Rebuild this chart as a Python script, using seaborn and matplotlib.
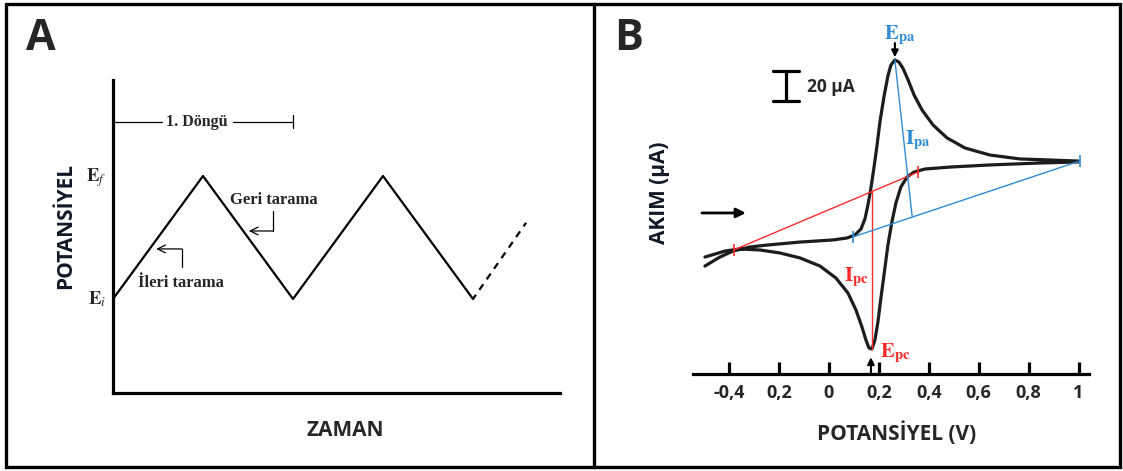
import numpy as np
import pandas as pd
import seaborn as sns
import matplotlib.pyplot as plt

# ---------------- data ----------------
# Panel A: triangular potential waveform (time units, potential normalised Ei=0, Ef=1)
wave_t = [0, 1, 2, 3, 4]
wave_E = [0, 1, 0, 1, 0]
dash_t = [4, 4.59]
dash_E = [0, 0.62]

# Panel B: cyclic voltammogram (V, µA)
fwd_V = [-0.497, -0.437, -0.385, -0.317, -0.248, -0.116, 0.016, 0.072, 0.104, 0.128,
         0.144, 0.156, 0.168, 0.180, 0.192, 0.204, 0.220, 0.236, 0.248, 0.264,
         0.280, 0.296, 0.317, 0.341, 0.373, 0.417, 0.473, 0.545, 0.645, 0.765,
         0.885, 0.998]
fwd_I = [-10.7, -4.7, -0.7, 2.0, 3.3, 5.3, 6.7, 8.0, 10.0, 14.0,
         20.7, 30.0, 41.3, 54.7, 69.3, 85.3, 102.0, 116.0, 123.3, 126.7,
         125.3, 121.3, 113.3, 103.3, 93.3, 83.3, 74.7, 68.0, 63.3, 60.7,
         60.0, 59.3]
rev_V = [0.998, 0.845, 0.645, 0.485, 0.385, 0.341, 0.313, 0.288, 0.268, 0.252,
         0.236, 0.224, 0.208, 0.196, 0.184, 0.172, 0.160, 0.148, 0.132, 0.108,
         0.076, 0.028, -0.036, -0.116, -0.196, -0.276, -0.357, -0.417, -0.497]
rev_I = [58.7, 58.0, 56.7, 55.3, 54.0, 52.0, 48.7, 42.0, 31.3, 18.7,
         3.3, -12.0, -32.0, -48.0, -60.0, -66.0, -65.3, -60.0, -51.3, -40.0,
         -28.7, -18.7, -10.7, -5.3, -2.0, 0.0, 0.7, -0.7, -4.7]

# baselines / peak construction lines
red_base_V = [-0.382, 0.357]
red_base_I = [0.0, 52.0]
ipc_V = [0.172, 0.172]
ipc_I = [39.0, -66.0]
blue_base_V = [0.096, 1.004]
blue_base_I = [8.7, 59.3]
ipa_V = [0.264, 0.333]
ipa_I = [126.7, 22.5]

tick_vals = [-0.4, -0.2, 0, 0.2, 0.4, 0.6, 0.8, 1.0]
tick_labels = ['-0,4', '0,2', '0', '0,2', '0,4', '0,6', '0,8', '1']

BLUE = '#2f8bd6'
RED = '#ff2b2b'

# ---------------- figure ----------------
sns.set_theme(style='white')
plt.rcParams['font.family'] = ['Open Sans', 'DejaVu Sans']
plt.rcParams['mathtext.fontset'] = 'stix'

W, H = 1123, 471
fig = plt.figure(figsize=(W / 100, H / 100), dpi=100)


def rect(l, t, r, b):
    return [l / W, 1 - b / H, (r - l) / W, (b - t) / H]


bg = fig.add_axes([0, 0, 1, 1])
bg.set_xlim(0, W)
bg.set_ylim(H, 0)
bg.axis('off')
bg.plot([6, 1120, 1120, 6, 6], [3.5, 3.5, 467, 467, 3.5], color='black', lw=2.4,
        solid_joinstyle='miter')
bg.plot([594, 594], [3.5, 467], color='black', lw=2.4)

bg.text(41, 38, 'A', fontsize=31, fontweight='bold', ha='center', va='center')
bg.text(629, 38, 'B', fontsize=31, fontweight='bold', ha='center', va='center')
bg.text(66, 226, 'POTANSİYEL', rotation=90, fontsize=15, fontweight='bold',
        ha='center', va='center', color='#111827')
bg.text(345, 430, 'ZAMAN', fontsize=15, fontweight='bold', ha='center', va='center')
bg.text(660, 193, 'AKIM (µA)', rotation=90, fontsize=15, fontweight='bold',
        ha='center', va='center', color='#111827')
bg.text(897, 433, 'POTANSİYEL (V)', fontsize=15, fontweight='bold', ha='center', va='center')

# ---------------- panel A ----------------
axA = fig.add_axes(rect(113, 80, 560, 393))
axA.patch.set_alpha(0)
sns.lineplot(x=wave_t, y=wave_E, ax=axA, color='black', lw=1.6, sort=False,
             estimator=None)
sns.lineplot(x=dash_t, y=dash_E, ax=axA, color='black', lw=1.6, sort=False,
             estimator=None, linestyle=(0.8, (3.1, 2.7)))
axA.set_xlim(0, 447 / 90)
axA.set_ylim((299 - 393) / 123, (299 - 80) / 123)
for s in ['top', 'right']:
    axA.spines[s].set_visible(False)
for s in ['left', 'bottom']:
    axA.spines[s].set_color('black')
    axA.spines[s].set_linewidth(2.3)
axA.set_xticks([])
axA.set_yticks([])
axA.set_xlabel('')
axA.set_ylabel('')

serif = ['Liberation Serif', 'DejaVu Serif']
axA.text(-0.07, 0.99, r'$\mathbf{E}_{\mathit{f}}$', ha='right', va='center', fontsize=13.5,
         clip_on=False)
axA.text(-0.07, 0.0, r'$\mathbf{E}_{\mathit{i}}$', ha='right', va='center', fontsize=13.5,
         clip_on=False)
# cycle bracket
axA.plot([0, 0.544], [1.44, 1.44], color='black', lw=0.9)
axA.plot([1.333, 2.0], [1.44, 1.44], color='black', lw=0.9)
axA.plot([2.0, 2.0], [1.39, 1.495], color='black', lw=0.9)
axA.text(0.935, 1.44, '1. Döngü', family=serif, fontweight='bold', fontsize=11.5,
         ha='center', va='center')
# scan labels and hooks
axA.text(1.789, 0.805, 'Geri tarama', family=serif, fontweight='bold', fontsize=12,
         ha='center', va='center')
axA.plot([1.778, 1.778], [0.715, 0.553], color='black', lw=0.9)
axA.annotate('', xy=(1.51, 0.553), xytext=(1.778, 0.553),
             arrowprops=dict(arrowstyle='->', lw=0.9, color='black', shrinkA=0,
                             shrinkB=0, mutation_scale=14))
axA.text(0.756, 0.13, 'İleri tarama', family=serif, fontweight='bold', fontsize=12,
         ha='center', va='center')
axA.plot([0.767, 0.767], [0.26, 0.407], color='black', lw=0.9)
axA.annotate('', xy=(0.48, 0.407), xytext=(0.767, 0.407),
             arrowprops=dict(arrowstyle='->', lw=0.9, color='black', shrinkA=0,
                             shrinkB=0, mutation_scale=14))

# ---------------- panel B ----------------
axB = fig.add_axes(rect(693, 20, 1089, 374))
axB.patch.set_alpha(0)
cv = pd.DataFrame({'V': fwd_V + rev_V, 'I': fwd_I + rev_I})
sns.lineplot(data=cv, x='V', y='I', ax=axB, sort=False, estimator=None,
             color='#1c1c1c', lw=2.3)
# construction lines
sns.lineplot(x=red_base_V, y=red_base_I, ax=axB, color=RED, lw=1.0, sort=False,
             estimator=None, marker='|', markersize=9, markeredgewidth=1.2,
             markeredgecolor=RED)
sns.lineplot(x=ipc_V, y=ipc_I, ax=axB, color=RED, lw=1.0, sort=False, estimator=None)
sns.lineplot(x=blue_base_V, y=blue_base_I, ax=axB, color=BLUE, lw=1.0, sort=False,
             estimator=None, marker='|', markersize=9, markeredgewidth=1.2,
             markeredgecolor=BLUE)
sns.lineplot(x=ipa_V, y=ipa_I, ax=axB, color=BLUE, lw=1.0, sort=False, estimator=None)

axB.set_xlim((693 - 829) / 249.6, (1089 - 829) / 249.6)
axB.set_ylim((250 - 374) / 1.5, (250 - 20) / 1.5)
for s in ['top', 'right', 'left']:
    axB.spines[s].set_visible(False)
axB.spines['bottom'].set_color('black')
axB.spines['bottom'].set_linewidth(2.3)
axB.set_yticks([])
axB.set_xticks(tick_vals)
axB.set_xticklabels(tick_labels)
axB.tick_params(axis='x', direction='in', length=9, width=2.3, color='black', pad=7,
                labelsize=13, bottom=True)
for lbl in axB.get_xticklabels():
    lbl.set_fontweight('bold')
axB.set_xlabel('')
axB.set_ylabel('')

# peak labels
axB.text(0.284, 143.5, r'$\mathbf{E}_{\mathbf{pa}}$', color=BLUE, fontsize=15,
         ha='center', va='center')
axB.annotate('', xy=(0.264, 128.5), xytext=(0.264, 138),
             arrowprops=dict(arrowstyle='-|>', lw=1.5, color='black', shrinkA=0,
                             shrinkB=0, mutation_scale=10))
axB.text(0.305, 73.3, r'$\mathbf{I}_{\mathbf{pa}}$', color=BLUE, fontsize=15,
         ha='left', va='center')
axB.text(0.160, -18, r'$\mathbf{I}_{\mathbf{pc}}$', color=RED, fontsize=15,
         ha='right', va='center')
axB.text(0.204, -69, r'$\mathbf{E}_{\mathbf{pc}}$', color=RED, fontsize=15,
         ha='left', va='center')
axB.annotate('', xy=(0.168, -71.5), xytext=(0.168, -82),
             arrowprops=dict(arrowstyle='-|>', lw=1.5, color='black', shrinkA=0,
                             shrinkB=0, mutation_scale=10), annotation_clip=False)
# scale bar 20 µA
axB.plot([-0.172, -0.172], [99.3, 119.3], color='black', lw=2.3)
axB.plot([-0.224, -0.120], [119.3, 119.3], color='black', lw=2.3)
axB.plot([-0.224, -0.120], [99.3, 99.3], color='black', lw=2.3)
axB.text(-0.088, 108.5, '20 µA', fontsize=12.5, fontweight='bold', ha='left',
         va='center')
# scan direction arrow
axB.annotate('', xy=(-0.333, 24.7), xytext=(-0.509, 24.7),
             arrowprops=dict(arrowstyle='-|>', lw=2.0, color='black', shrinkA=0,
                             shrinkB=0, mutation_scale=14), annotation_clip=False)

fig.savefig('out.png', dpi=100)
